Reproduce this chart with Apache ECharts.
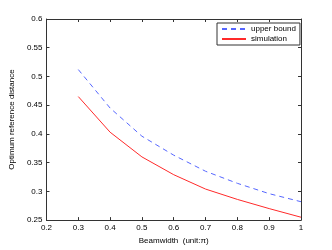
<!DOCTYPE html>
<html><head><meta charset="utf-8">
<script src="https://cdn.jsdelivr.net/npm/echarts@6/dist/echarts.min.js"></script>
<style>html,body{margin:0;padding:0;background:#fff}#c{width:332px;height:250px}</style>
</head><body><div id="c"></div>
<script>
const xValues = [0.3, 0.4, 0.5, 0.6, 0.7, 0.8, 0.9, 1.0];
const upperBound = [0.512, 0.445, 0.396, 0.363, 0.335, 0.314, 0.296, 0.282];
const simulation = [0.465, 0.403, 0.360, 0.329, 0.304, 0.286, 0.270, 0.255];
const seriesNames = ['upper bound', 'simulation'];
const xLabel = 'Beamwidth  (unit:π)';
const yLabel = 'Optimum reference distance';

const font = 'Liberation Sans, Arial, sans-serif';
const chart = echarts.init(document.getElementById('c'), null, {renderer: 'canvas'});
const axisLine = {show: true, lineStyle: {color: '#333', width: 1}};
const tick = {show: true, inside: true, length: 3, lineStyle: {color: '#333'}};
chart.setOption({
  animation: false,
  grid: {left: 43, right: 31, top: 19, bottom: 29, containLabel: false},
  legend: {
    data: seriesNames,
    orient: 'vertical',
    left: 217, top: 23,
    itemWidth: 24, itemHeight: 8, itemGap: 2,
    padding: [2, 4, 2, 4],
    borderColor: '#333', borderWidth: 1,
    backgroundColor: '#fff',
    itemStyle: {opacity: 0},
    textStyle: {fontFamily: font, fontSize: 8, color: '#000'}
  },
  xAxis: [{
    type: 'value', min: 0.2, max: 1, interval: 0.1,
    name: xLabel, nameLocation: 'middle', nameGap: 13,
    nameTextStyle: {fontFamily: font, fontSize: 8, color: '#000'},
    axisLine: axisLine, axisTick: tick, splitLine: {show: false},
    axisLabel: {fontFamily: font, fontSize: 8, color: '#000', margin: 4,
      formatter: v => (Math.round(v * 10) / 10).toString()}
  }, {
    type: 'value', position: 'top', min: 0.2, max: 1, interval: 0.1,
    axisLine: axisLine, axisTick: tick, splitLine: {show: false}, axisLabel: {show: false}
  }],
  yAxis: [{
    type: 'value', min: 0.25, max: 0.6, interval: 0.05,
    name: yLabel, nameLocation: 'middle', nameGap: 30,
    nameTextStyle: {fontFamily: font, fontSize: 8, color: '#000'},
    axisLine: axisLine, axisTick: tick, splitLine: {show: false},
    axisLabel: {fontFamily: font, fontSize: 8, color: '#000', margin: 4,
      formatter: v => (Math.round(v * 100) / 100).toString()}
  }, {
    type: 'value', position: 'right', min: 0.25, max: 0.6, interval: 0.05,
    axisLine: axisLine, axisTick: tick, splitLine: {show: false}, axisLabel: {show: false}
  }],
  series: [{
    name: seriesNames[0], type: 'line', symbol: 'none',
    data: xValues.map((x, i) => [x, upperBound[i]]),
    lineStyle: {color: '#5566ff', width: 1, type: [5, 4]},
    itemStyle: {color: '#5566ff'}
  }, {
    name: seriesNames[1], type: 'line', symbol: 'none',
    data: xValues.map((x, i) => [x, simulation[i]]),
    lineStyle: {color: '#ff2a2a', width: 1},
    itemStyle: {color: '#ff2a2a'}
  }]
});
</script></body></html>
